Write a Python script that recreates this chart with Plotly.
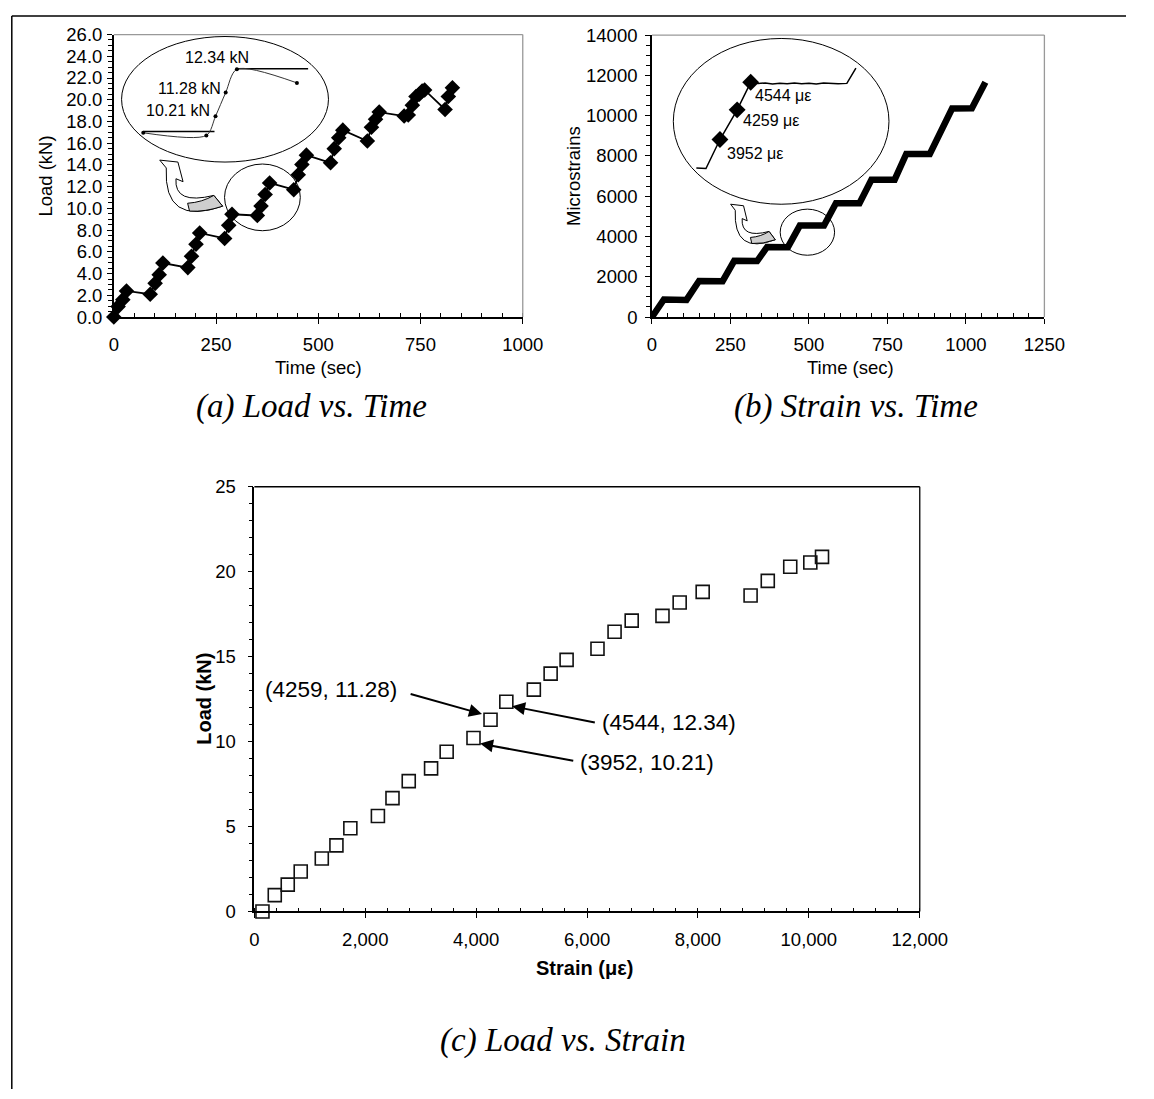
import plotly.graph_objects as go

W, H = 1154, 1099
SANS = "Arial, 'Liberation Sans', sans-serif"
SERIF = "'Times New Roman', 'Liberation Serif', serif"

# ---------------- data ----------------
# (a) Load vs. Time
time_a = [0, 10.5, 22, 31, 89, 101, 111, 120, 181, 190, 201, 210, 271, 281, 289,
          351, 360, 370, 381, 440, 451, 460, 471, 530, 539, 550, 560, 620, 630, 640,
          649, 710, 720, 730, 739, 747, 754, 760, 810, 818, 828]
load_a = [0, 0.96, 1.6, 2.4, 2.1, 3.1, 3.9, 4.97, 4.55, 5.6, 6.7, 7.74, 7.23, 8.44, 9.46,
          9.34, 10.21, 11.28, 12.34, 11.72, 13.1, 14.04, 14.9, 14.2, 15.5, 16.5, 17.2, 16.2, 17.47, 18.2,
          18.86, 18.5, 18.6, 19.5, 20.3, 20.5, 20.8, 20.9, 19.1, 20.3, 21.1]

# (a) inset (zoomed view)
inset_a_time = [289, 351, 360, 370, 381, 440]
inset_a_load = [9.46, 9.34, 10.21, 11.28, 12.34, 11.72]
inset_a_ref1_time = [289, 359]
inset_a_ref1_load = [9.52, 9.52]
inset_a_ref2_time = [381, 451]
inset_a_ref2_load = [12.36, 12.36]
inset_a_labels = ["12.34 kN", "11.28 kN", "10.21 kN"]

# (b) Strain vs. Time
time_b = [0, 38, 110, 150, 225, 262, 335, 367, 433, 471, 548, 586, 661, 699, 773,
          810, 885, 956, 1019, 1062]
strain_b = [0, 870, 850, 1790, 1780, 2790, 2780, 3480, 3470, 4540, 4545, 5650, 5650, 6820, 6820,
            8100, 8100, 10350, 10360, 11650]

# (b) inset (zoomed view)
inset_b_time = [433.7, 440.3, 449.9, 461.7, 471, 476, 481, 486, 491, 496, 501, 506, 511,
                516, 521, 526, 531, 537, 543.2]
inset_b_strain = [3658, 3651, 3952, 4259, 4544, 4532, 4538, 4527, 4535, 4529, 4537, 4530, 4534,
                  4526, 4536, 4531, 4528, 4533, 4690]
inset_b_mark_time = [449.9, 461.7, 471]
inset_b_mark_strain = [3952, 4259, 4544]
inset_b_labels = ["4544 με", "4259 με", "3952 με"]

# (c) Load vs. Strain
strain_c = [146, 368, 602, 836, 1216, 1480, 1731, 2228, 2491, 2784, 3187, 3468, 3952, 4259, 4544,
            5040, 5343, 5631, 6188, 6496, 6805, 7360, 7670, 8085, 8949, 9259, 9664, 10026, 10237]
load_c = [0, 0.96, 1.58, 2.35, 3.12, 3.89, 4.9, 5.62, 6.67, 7.67, 8.42, 9.4, 10.21, 11.28, 12.34,
          13.06, 14.0, 14.81, 15.46, 16.46, 17.12, 17.4, 18.19, 18.81, 18.6, 19.46, 20.29, 20.54, 20.87]
callout_text = ["(4259, 11.28)", "(4544, 12.34)", "(3952, 10.21)"]
callout_head = [(4105, 11.62), (4648, 12.08), (4070, 9.88)]
callout_tail = [(2791, 12.83), (6167, 11.11), (5778, 8.85)]
callout_pos = [(1389, 13.06), (7469, 11.15), (7083, 8.79)]


def px(x):
    return x / W


def py(y):
    return 1 - y / H


fig = go.Figure()

# main traces
fig.add_trace(go.Scatter(x=time_a, y=load_a, mode="lines+markers", xaxis="x", yaxis="y",
                         line=dict(color="black", width=1.8),
                         marker=dict(symbol="diamond", size=12, color="black"),
                         cliponaxis=False, showlegend=False))
fig.add_trace(go.Scatter(x=time_b, y=strain_b, mode="lines", xaxis="x2", yaxis="y2",
                         line=dict(color="black", width=6.5),
                         cliponaxis=False, showlegend=False))
fig.add_trace(go.Scatter(x=strain_c, y=load_c, mode="markers", xaxis="x3", yaxis="y3",
                         marker=dict(symbol="square-open", size=13, color="#111",
                                     line=dict(width=1.6)),
                         cliponaxis=False, showlegend=False))

# inset (a)
fig.add_trace(go.Scatter(x=inset_a_ref1_time, y=inset_a_ref1_load, mode="lines", xaxis="x4", yaxis="y4",
                         line=dict(color="black", width=1.5), showlegend=False))
fig.add_trace(go.Scatter(x=inset_a_ref2_time, y=inset_a_ref2_load, mode="lines", xaxis="x4", yaxis="y4",
                         line=dict(color="black", width=1.5), showlegend=False))
fig.add_trace(go.Scatter(x=inset_a_time, y=inset_a_load, mode="lines+markers", xaxis="x4", yaxis="y4",
                         line=dict(color="#333", width=1, shape="spline", smoothing=0.8),
                         marker=dict(size=4, color="black"), showlegend=False))

# inset (b)
fig.add_trace(go.Scatter(x=inset_b_time, y=inset_b_strain, mode="lines", xaxis="x5", yaxis="y5",
                         line=dict(color="black", width=1.5), showlegend=False))
fig.add_trace(go.Scatter(x=inset_b_mark_time, y=inset_b_mark_strain, mode="markers", xaxis="x5", yaxis="y5",
                         marker=dict(symbol="diamond", size=13, color="black"), showlegend=False))

tickfont = dict(family=SANS, size=18.5, color="black")


def ax(**kw):
    d = dict(showline=True, linecolor="black", linewidth=1.5, ticks="outside", ticklen=5,
             tickwidth=1.2, tickcolor="black", showgrid=False, zeroline=False,
             tickfont=tickfont, fixedrange=True)
    d.update(kw)
    return d


def minor(dt, side):
    return dict(dtick=dt, ticks=side, ticklen=4, tickwidth=1, tickcolor="black", showgrid=False)


hidden = dict(visible=False, showgrid=False, zeroline=False, fixedrange=True)

fig.update_layout(
    width=W, height=H, margin=dict(l=0, r=0, t=0, b=0),
    paper_bgcolor="white", plot_bgcolor="rgba(0,0,0,0)", showlegend=False,
    xaxis=ax(domain=[px(112), px(533)], range=[0, 1000], tick0=0, dtick=250, anchor="y",
             minor=minor(50, "inside"), ticklabelstandoff=5),
    yaxis=ax(domain=[py(312), py(24)], range=[0, 26], tick0=0, dtick=2, tickformat=".1f",
             anchor="x", minor=minor(0.5, "outside"), ticklabelstandoff=1),
    xaxis2=ax(domain=[px(666), px(1070)], range=[0, 1250], tick0=0, dtick=250, anchor="y2",
              minor=minor(50, "inside"), ticklabelstandoff=5),
    yaxis2=ax(domain=[py(312), py(24.5)], range=[0, 14000], tick0=0, dtick=2000, tickformat="d",
              anchor="x2", minor=minor(500, "outside"), ticklabelstandoff=4),
    xaxis3=ax(domain=[px(256.7), px(941.7)], range=[0, 12000], tick0=0, dtick=2000,
              tickformat=",d", anchor="y3", minor=minor(400, "inside"), ticklabelstandoff=6),
    yaxis3=ax(domain=[py(918), py(485)], range=[0, 25], tick0=0, dtick=5, anchor="x3",
              minor=minor(1, "outside"), ticklabelstandoff=8),
    xaxis4=dict(hidden, domain=[px(120), px(333)], range=[267.7, 471], anchor="y4"),
    yaxis4=dict(hidden, domain=[py(154), py(26)], range=[8.135, 13.82], anchor="x4"),
    xaxis5=dict(hidden, domain=[px(688), px(910)], range=[417.9, 565.9], anchor="y5"),
    yaxis5=dict(hidden, domain=[py(197), py(28)], range=[3282, 4998], anchor="x5"),
)

shapes = []
# outer frame (left and top edges)
shapes.append(dict(type="line", xref="paper", yref="paper", x0=px(7), x1=px(7), y0=py(5), y1=0,
                   line=dict(color="black", width=1.5)))
shapes.append(dict(type="line", xref="paper", yref="paper", x0=px(7), x1=1, y0=py(5), y1=py(5),
                   line=dict(color="black", width=1.5)))
# plot-area top / right borders
for xr, yr, col in [("x", "y", "#999"), ("x2", "y2", "#999"), ("x3", "y3", "black")]:
    shapes.append(dict(type="line", xref=f"{xr} domain", yref=f"{yr} domain", x0=0, x1=1, y0=1, y1=1,
                       line=dict(color=col, width=1.3)))
    shapes.append(dict(type="line", xref=f"{xr} domain", yref=f"{yr} domain", x0=1, x1=1, y0=0, y1=1,
                       line=dict(color=col, width=1.3)))


def ellipse(x0, x1, y0, y1):
    return dict(type="circle", xref="paper", yref="paper", x0=px(x0), x1=px(x1), y0=py(y1), y1=py(y0),
                line=dict(color="black", width=1))


shapes += [ellipse(120, 333, 26, 154), ellipse(226, 304, 156, 224),
           ellipse(688, 910, 28, 197), ellipse(798, 854, 202, 249)]

arrow_outline = [("M", [(159.3, 152)]), ("L", [(178, 154)]), ("L", [(183.3, 174)]), ("L", [(176, 171)]),
                 ("Q", [(174, 198), (215, 188)]), ("L", [(224, 199)]), ("Q", [(163, 220), (166, 160)]),
                 ("Z", [])]
arrow_gray = [("M", [(188, 196)]), ("Q", [(203, 195), (215, 188)]), ("L", [(224, 199)]),
              ("Q", [(206, 205), (190, 204)]), ("Z", [])]


def build(segs, tf):
    out = []
    for cmd, pts in segs:
        if not pts:
            out.append(cmd)
            continue
        c = " ".join(f"{px(tf(x, y)[0]):.5f},{py(tf(x, y)[1]):.5f}" for x, y in pts)
        out.append(f"{cmd} {c}")
    return " ".join(out)


tf_a = lambda x, y: (x, y)
tf_b = lambda x, y: (747 + (x - 159.3) * 0.71, 197 + (y - 152) * 0.77)
for tf in (tf_a, tf_b):
    shapes.append(dict(type="path", xref="paper", yref="paper", path=build(arrow_outline, tf),
                       fillcolor="white", line=dict(color="black", width=1)))
    shapes.append(dict(type="path", xref="paper", yref="paper", path=build(arrow_gray, tf),
                       fillcolor="#cfcfcf", line=dict(color="black", width=1)))

fig.update_layout(shapes=shapes)

ann = []


def txt(text, x, y, size=18.5, family=SANS, xanchor="center", angle=0, bold=False, italic=False):
    if bold:
        text = f"<b>{text}</b>"
    if italic:
        text = f"<i>{text}</i>"
    ann.append(dict(text=text, x=px(x), y=py(y), xref="paper", yref="paper", showarrow=False,
                    xanchor=xanchor, yanchor="middle", textangle=angle,
                    font=dict(family=family, size=size, color="black")))


# axis titles
txt("Load (kN)", 42, 168, angle=-90)
txt("Time (sec)", 323, 363)
txt("Microstrains", 586, 168, angle=-90)
txt("Time (sec)", 870, 363)
txt("Load (kN)", 204, 701, size=20, angle=-90, bold=True)
txt("Strain (με)", 597, 976, size=20, bold=True)

# captions
txt("(a) Load vs. Time", 316, 403, size=33, family=SERIF, italic=True)
txt("(b) Strain vs. Time", 876, 403, size=33, family=SERIF, italic=True)
txt("(c) Load vs. Strain", 574, 1050, size=33, family=SERIF, italic=True)

# inset labels
txt(inset_a_labels[0], 218.3, 47.3, size=16)
txt(inset_a_labels[1], 224, 79, size=16, xanchor="right")
txt(inset_a_labels[2], 212.7, 101.7, size=16, xanchor="right")
txt(inset_b_labels[0], 770, 85.7, size=16, xanchor="left")
txt(inset_b_labels[1], 757.7, 111.7, size=16, xanchor="left")
txt(inset_b_labels[2], 741, 145.3, size=16, xanchor="left")

# (c) callouts
for t, (hx, hy), (tx, ty), (lx, ly) in zip(callout_text, callout_head, callout_tail, callout_pos):
    ann.append(dict(x=hx, y=hy, ax=tx, ay=ty, xref="x3", yref="y3", axref="x3", ayref="y3",
                    text="", showarrow=True, arrowhead=2, arrowsize=1.3, arrowwidth=2,
                    arrowcolor="black"))
    ann.append(dict(x=lx, y=ly, xref="x3", yref="y3", text=t, showarrow=False,
                    xanchor="center", yanchor="middle",
                    font=dict(family=SANS, size=22.5, color="black")))

fig.update_layout(annotations=ann)

fig.write_html("out.html", post_script="document.body.style.margin='0';")
